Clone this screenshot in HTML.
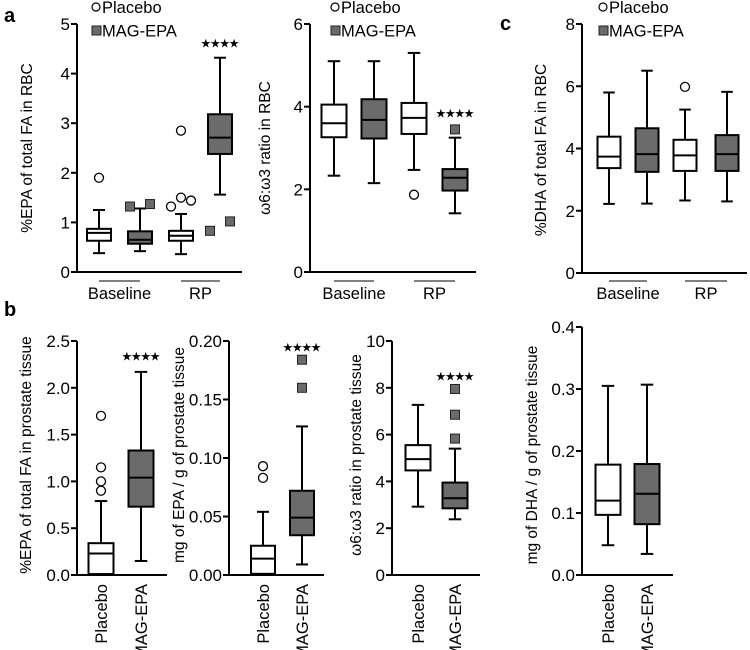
<!DOCTYPE html>
<html><head><meta charset="utf-8"><style>
html,body{margin:0;padding:0;background:#fff;}
svg{display:block;font-family:"Liberation Sans",Arial,sans-serif;}
</style></head><body>
<svg id="fig" width="750" height="650" viewBox="0 0 750 650" xmlns="http://www.w3.org/2000/svg">
<text x="4" y="22" font-size="20" font-weight="bold">a</text>
<text x="4" y="316" font-size="20" font-weight="bold">b</text>
<text x="500" y="30" font-size="20" font-weight="bold">c</text>
</svg>
<script>
// Panel a1: %EPA RBC (Baseline placebo, Baseline MAG, RP placebo, RP MAG)
const a1Ticks=[0,1,2,3,4,5];
const a1Hi=[1.25,1.28,1.17,4.32];
const a1Q3=[0.87,0.82,0.83,3.18];
const a1Med=[0.79,0.65,0.73,2.71];
const a1Q1=[0.63,0.57,0.63,2.38];
const a1Lo=[0.38,0.42,0.36,1.56];
const a1Out=[[1.9],[1.32,1.37],[1.32,1.5,1.44,2.85],[0.83,1.02]];
// Panel a2: w6:w3 RBC
const a2Ticks=[0,2,4,6];
const a2Hi=[5.1,5.1,5.3,3.25];
const a2Q3=[4.05,4.18,4.09,2.49];
const a2Med=[3.6,3.68,3.73,2.28];
const a2Q1=[3.26,3.23,3.34,1.97];
const a2Lo=[2.33,2.15,2.47,1.42];
const a2Out=[[],[],[1.87],[3.45]];
// Panel c: %DHA RBC
const cTicks=[0,2,4,6,8];
const cHi=[5.8,6.5,5.25,5.82];
const cQ3=[4.38,4.65,4.28,4.43];
const cMed=[3.74,3.82,3.78,3.82];
const cQ1=[3.37,3.25,3.28,3.28];
const cLo=[2.22,2.23,2.33,2.3];
const cOut=[[],[],[5.98],[]];
// Panel b1: %EPA prostate
const b1Ticks=[0,0.5,1.0,1.5,2.0,2.5];
const b1TickLabels=["0.0","0.5","1.0","1.5","2.0","2.5"];
const b1Hi=[0.79,2.17];const b1Q3=[0.34,1.33];const b1Med=[0.23,1.04];const b1Q1=[0.01,0.73];const b1Lo=[0.0,0.15];
const b1Out=[[1.7,1.15,1.0,0.9],[]];
// Panel b2: mg EPA / g
const b2Ticks=[0,0.05,0.10,0.15,0.20];
const b2TickLabels=["0.00","0.05","0.10","0.15","0.20"];
const b2Hi=[0.054,0.127];const b2Q3=[0.025,0.072];const b2Med=[0.014,0.049];const b2Q1=[0.001,0.034];const b2Lo=[0.0,0.009];
const b2Out=[[0.083,0.093],[0.16,0.184]];
// Panel b3: w6:w3 prostate
const b3Ticks=[0,2,4,6,8,10];
const b3Hi=[7.27,5.4];const b3Q3=[5.55,3.95];const b3Med=[4.95,3.28];const b3Q1=[4.47,2.85];const b3Lo=[2.92,2.38];
const b3Out=[[],[7.95,6.85,5.83]];
// Panel b4: mg DHA / g
const b4Ticks=[0,0.1,0.2,0.3,0.4];
const b4TickLabels=["0.0","0.1","0.2","0.3","0.4"];
const b4Hi=[0.305,0.307];const b4Q3=[0.178,0.179];const b4Med=[0.12,0.131];const b4Q1=[0.097,0.082];const b4Lo=[0.048,0.034];
const b4Out=[[],[]];

const NS="http://www.w3.org/2000/svg";
const svg=document.getElementById('fig');
const GRAY="#6b6b6b";
function mk(tag,attrs,parent){const e=document.createElementNS(NS,tag);for(const k in attrs)e.setAttribute(k,attrs[k]);(parent||svg).appendChild(e);return e;}

function panel(p){
  const g=mk('g',{});
  
  
  const ys=v=>p.y0-(v-p.min)/(p.max-p.min)*(p.y0-p.yTop);
  const spread=p.spread===undefined?11:p.spread;
  const ya=mk('line',{x1:p.ax,y1:ys(p.max),x2:p.ax,y2:p.y0+1,stroke:'#000','stroke-width':2},g);
  
  
  const xa=mk('line',{x1:p.ax-1,y1:p.y0,x2:p.axEnd,y2:p.y0,stroke:'#000','stroke-width':2},g);
  
  
  p.ticks.forEach((t,i)=>{
    const y=ys(t);
    const tl=mk('line',{x1:p.ax-6,y1:y,x2:p.ax,y2:y,stroke:'#000','stroke-width':2},g);
    
    
    const tx=mk('text',{x:p.ax-7,y:y+6,'font-size':17,'text-anchor':'end'},g);
    tx.textContent=p.tickLabels?p.tickLabels[i]:String(t);
    
    
  });
  const yt=mk('text',{x:0,y:0,'font-size':15.5,'text-anchor':'middle',transform:`translate(${p.titleX},${p.titleY}) rotate(-90)`},g);
  yt.textContent=p.title;
  
  
  p.hi.forEach((hv,i)=>{
    const cx=p.cx[i], w=p.bw, fill=p.gray[i]?GRAY:'#fff';
    const bg=mk('g',{},g);
    
    
    mk('line',{x1:cx,y1:ys(hv),x2:cx,y2:ys(p.q3[i]),stroke:'#000','stroke-width':2},bg);
    mk('line',{x1:cx,y1:ys(p.q1[i]),x2:cx,y2:ys(p.lo[i]),stroke:'#000','stroke-width':2},bg);
    mk('line',{x1:cx-w/4,y1:ys(hv),x2:cx+w/4,y2:ys(hv),stroke:'#000','stroke-width':2},bg);
    if(p.lo[i]>p.min) mk('line',{x1:cx-w/4,y1:ys(p.lo[i]),x2:cx+w/4,y2:ys(p.lo[i]),stroke:'#000','stroke-width':2},bg);
    mk('rect',{x:cx-w/2,y:ys(p.q3[i]),width:w,height:ys(p.q1[i])-ys(p.q3[i]),fill:fill,stroke:'#000','stroke-width':2},bg);
    mk('line',{x1:cx-w/2,y1:ys(p.med[i]),x2:cx+w/2,y2:ys(p.med[i]),stroke:'#000','stroke-width':2},bg);
    const outs=p.out[i];
    const pys=outs.map(ys);
    const clusterOf=outs.map(()=>-1);let clusters=[];
    outs.forEach((v,j)=>{ if(clusterOf[j]>=0)return; const c=[j];clusterOf[j]=clusters.length;
      for(let k=0;k<outs.length;k++){ if(clusterOf[k]<0 && c.some(m=>Math.abs(pys[m]-pys[k])<spread)){c.push(k);clusterOf[k]=clusters.length;}}
      clusters.push(c);});
    outs.forEach((v,j)=>{
      const c=clusters[clusterOf[j]];const n=c.length;const idx=c.indexOf(j);
      const ox=n>1?(-10+20*idx/(n-1)):0;
      const x=cx+ox,y=pys[j];
      let m;
      if(p.gray[i]) m=mk('rect',{x:x-4.5,y:y-4.5,width:9,height:9,fill:GRAY,stroke:'#222','stroke-width':1},bg);
      else m=mk('circle',{cx:x,cy:y,r:4.5,fill:'#fff',stroke:'#000','stroke-width':1.3},bg);
      
      
    });
  });
  if(p.stars){const s=mk('text',{x:p.cx[p.stars.i],y:p.stars.y,'font-size':10.5,'font-weight':'bold','text-anchor':'middle'},g);
    s.textContent='★★★★';
    
    }
  if(p.groups){
    p.groups.forEach((gl,k)=>{
      const a=p.cx[2*k],b=p.cx[2*k+1];
      const ln=mk('line',{x1:a,y1:281,x2:b,y2:281,stroke:'#000','stroke-width':1},g);
      
      
      const t=mk('text',{x:(a+b)/2,y:299,'font-size':16.5,'text-anchor':'middle'},g);
      t.textContent=gl;
      
      
    });
  } else {
    ['Placebo','MAG-EPA'].forEach((l,k)=>{
      const t=mk('text',{x:0,y:0,'font-size':16.5,'text-anchor':'end',transform:`translate(${p.cx[k]+6},584) rotate(-90)`},g);
      t.textContent=l;
      
      
    });
  }
  if(p.legend){
    const lg=mk('g',{},g);
    
    
    const [lx,ly]=p.legend;
    mk('circle',{cx:lx+4,cy:ly,r:4,fill:'#fff',stroke:'#000','stroke-width':1.2},lg);
    const t1=mk('text',{x:lx+10,y:ly+6,'font-size':16.5},lg);t1.textContent='Placebo';
    
    
    mk('rect',{x:lx,y:ly+19,width:9,height:9,fill:GRAY,stroke:'#222','stroke-width':1},lg);
    const t2=mk('text',{x:lx+10,y:ly+29.5,'font-size':16.5},lg);t2.textContent='MAG-EPA';
    
    
  }
}
const G4=[false,true,false,true], G2=[false,true];
panel({name:'panel-a-epa-rbc',ax:77,axEnd:242,y0:272,yTop:24,min:0,max:5,ticks:a1Ticks,title:'%EPA of total FA in RBC',titleX:32,titleY:148,
  cx:[99,140,181,220],bw:24,gray:G4,hi:a1Hi,q3:a1Q3,med:a1Med,q1:a1Q1,lo:a1Lo,out:a1Out,stars:{i:3,y:47},groups:['Baseline','RP'],legend:[92,7]});
panel({name:'panel-a-ratio-rbc',ax:310,axEnd:476,y0:272,yTop:24,min:0,max:6,ticks:a2Ticks,title:'ω6:ω3 ratio in RBC',titleX:270,titleY:148,
  cx:[334,374,414,455],bw:25,gray:G4,hi:a2Hi,q3:a2Q3,med:a2Med,q1:a2Q1,lo:a2Lo,out:a2Out,stars:{i:3,y:117},groups:['Baseline','RP'],legend:[331,7]});
panel({name:'panel-c-dha-rbc',ax:582,axEnd:747,y0:273,yTop:24,min:0,max:8,ticks:cTicks,title:'%DHA of total FA in RBC',titleX:546,titleY:150,
  cx:[609,647,685,727],bw:23,gray:G4,hi:cHi,q3:cQ3,med:cMed,q1:cQ1,lo:cLo,out:cOut,groups:['Baseline','RP'],legend:[599,7]});
panel({name:'panel-b-epa-prostate',ax:77,axEnd:167,y0:575,yTop:341,min:0,max:2.5,ticks:b1Ticks,tickLabels:b1TickLabels,title:'%EPA of total FA in prostate tissue',titleX:31,titleY:455,
  cx:[101,141],bw:25,gray:G2,hi:b1Hi,q3:b1Q3,med:b1Med,q1:b1Q1,lo:b1Lo,out:b1Out,stars:{i:1,y:360},spread:5});
panel({name:'panel-b-mg-epa',ax:229,axEnd:324,y0:575,yTop:341,min:0,max:0.2,ticks:b2Ticks,tickLabels:b2TickLabels,title:'mg of EPA / g of prostate tissue',titleX:184,titleY:455,
  cx:[263,302],bw:24,gray:G2,hi:b2Hi,q3:b2Q3,med:b2Med,q1:b2Q1,lo:b2Lo,out:b2Out,stars:{i:1,y:351}});
panel({name:'panel-b-ratio-prostate',ax:392,axEnd:480,y0:575,yTop:341,min:0,max:10,ticks:b3Ticks,title:'ω6:ω3 ratio in prostate tissue',titleX:361,titleY:455,
  cx:[418,455],bw:25,gray:G2,hi:b3Hi,q3:b3Q3,med:b3Med,q1:b3Q1,lo:b3Lo,out:b3Out,stars:{i:1,y:380}});
panel({name:'panel-c-mg-dha',ax:582,axEnd:673,y0:575,yTop:327,min:0,max:0.4,ticks:b4Ticks,tickLabels:b4TickLabels,title:'mg of DHA / g of prostate tissue',titleX:537,titleY:455,
  cx:[608,647],bw:25,gray:G2,hi:b4Hi,q3:b4Q3,med:b4Med,q1:b4Q1,lo:b4Lo,out:b4Out});
</script>
</body></html>
